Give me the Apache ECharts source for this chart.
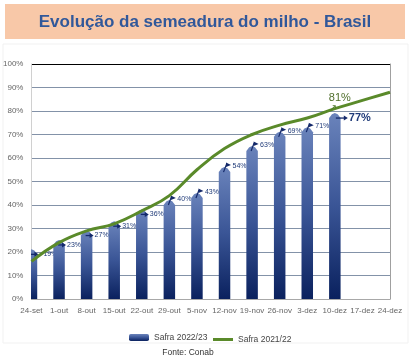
<!DOCTYPE html>
<html>
<head>
<meta charset="utf-8">
<script src="https://cdn.jsdelivr.net/npm/echarts@6/dist/echarts.min.js"></script>
<style>
html,body{margin:0;padding:0;background:#fff;}
#chart{width:412px;height:361px;}
</style>
</head>
<body>
<div id="chart"></div>
<script>
// ---- data ----
const categories = ['24-set','1-out','8-out','15-out','22-out','29-out','5-nov','12-nov','19-nov','26-nov','3-dez','10-dez','17-dez','24-dez'];
const safra2223 = [19, 23, 27, 31, 36, 40, 43, 54, 63, 69, 71, 77, null, null];
const safra2122 = [16, 24, 29, 32, 37.5, 44, 55, 64, 70, 74, 77, 81, 84.5, 88];
const yTicks = [0, 10, 20, 30, 40, 50, 60, 70, 80, 90, 100];
const titleText = 'Evolução da semeadura do milho - Brasil';
const sourceText = 'Fonte: Conab';
const seriesNames = ['Safra 2022/23', 'Safra 2021/22'];

const FONT = 'Liberation Sans, Arial, sans-serif';
const chart = echarts.init(document.getElementById('chart'), null, {renderer: 'canvas'});

const barGrad = new echarts.graphic.LinearGradient(0, 0, 0, 1, [
  {offset: 0, color: '#6a83bb'},
  {offset: 0.5, color: '#3a5596'},
  {offset: 1, color: '#0a215e'}
]);

const barData = [];
safra2223.forEach((v, i) => { if (v != null) barData.push([i, v]); });
const lastBarIdx = barData.length - 1;
const lastBarCat = barData[lastBarIdx][0];

function renderBar(params, api) {
  const idx = api.value(0);
  const v = api.value(1);
  const base = api.coord([idx, 0]);
  const top = api.coord([idx, v]);
  const cx = top[0];
  const w = 11.5, cap = 5;
  const ty = top[1];
  const children = [{
    type: 'polygon',
    shape: {points: [
      [cx - w / 2, base[1]], [cx - w / 2, ty], [cx - w / 4, ty - cap * 0.75],
      [cx, ty - cap], [cx + w / 4, ty - cap * 0.75], [cx + w / 2, ty], [cx + w / 2, base[1]]
    ]},
    style: {fill: barGrad}
  }];
  const navy = '#14296a';
  const k = params.dataIndex;
  if (k === lastBarIdx) {
    children.push({type: 'line', shape: {x1: cx + 1, y1: ty, x2: cx + 10, y2: ty}, style: {stroke: navy, lineWidth: 1.3}});
    children.push({type: 'polygon', shape: {points: [[cx + 9, ty - 2.5], [cx + 13, ty], [cx + 9, ty + 2.5]]}, style: {fill: navy}});
    children.push({type: 'text', style: {text: v + '%', x: cx + 14, y: ty, fill: '#1f3a78', fontSize: 11, fontWeight: 'bold', fontFamily: FONT, verticalAlign: 'middle'}});
  } else if (k < 5) {
    children.push({type: 'line', shape: {x1: cx - (k === 0 ? 2 : 1), y1: ty, x2: cx + 4, y2: ty}, style: {stroke: navy, lineWidth: 1.3}});
    children.push({type: 'polygon', shape: {points: [[cx + 3, ty - 2.5], [cx + 7, ty], [cx + 3, ty + 2.5]]}, style: {fill: navy}});
    children.push({type: 'text', style: {text: v + '%', x: cx + (k === 0 ? 12 : 8), y: ty, fill: '#1f3a78', fontSize: 7, fontFamily: FONT, verticalAlign: 'middle'}});
  } else {
    const fy = ty - 6;
    children.push({type: 'line', shape: {x1: cx - 1, y1: fy + 6, x2: cx + 2, y2: fy - 2}, style: {stroke: navy, lineWidth: 1.2}});
    children.push({type: 'polygon', shape: {points: [[cx + 1.5, fy - 3.5], [cx + 6.5, fy - 1], [cx + 1.5, fy + 1]]}, style: {fill: navy}});
    children.push({type: 'text', style: {text: v + '%', x: cx + 8, y: fy, fill: '#1f3a78', fontSize: 7, fontFamily: FONT, verticalAlign: 'middle'}});
  }
  return {type: 'group', children: children};
}

const splitColors = yTicks.map(t => t === 100 ? '#000000' : '#8392a8');

chart.setOption({
  animation: false,
  textStyle: {fontFamily: FONT},
  graphic: [
    {type: 'rect', shape: {x: 5, y: 4, width: 400, height: 35}, style: {fill: '#f8c8a8'}, z: 0},
    {type: 'text', x: 205, y: 22, style: {text: titleText, fill: '#31589a', fontSize: 17, fontWeight: 'bold', fontFamily: FONT, align: 'center', verticalAlign: 'middle'}},
    {type: 'rect', shape: {x: 3, y: 44, width: 405, height: 299}, style: {fill: 'none', stroke: '#f1f1f1', lineWidth: 1}, z: -1},
    {type: 'text', x: 188, y: 353, style: {text: sourceText, fill: '#333', fontSize: 8.5, fontFamily: FONT, align: 'center', verticalAlign: 'middle'}}
  ],
  grid: {left: 31, right: 22, top: 64, bottom: 62},
  legend: [{
    left: 124, top: 328, itemWidth: 20, itemHeight: 7,
    textStyle: {fontSize: 8.5, color: '#444', fontFamily: FONT},
    data: [{name: seriesNames[0], icon: 'roundRect'}]
  }, {
    left: 208, top: 330, itemWidth: 20, itemHeight: 3,
    textStyle: {fontSize: 8.5, color: '#444', fontFamily: FONT},
    data: [{name: seriesNames[1], icon: 'rect'}]
  }],
  xAxis: {
    type: 'category', data: categories, boundaryGap: false,
    axisLine: {lineStyle: {color: '#a8a8a8'}},
    axisTick: {show: false},
    axisLabel: {fontSize: 8, color: '#666', margin: 8, interval: 0, fontFamily: FONT},
    splitLine: {show: false}
  },
  yAxis: [{
    type: 'value', min: 0, max: 100, interval: 10,
    axisLine: {show: true, lineStyle: {color: '#d0d0d0'}},
    axisTick: {show: false},
    axisLabel: {formatter: '{value}%', fontSize: 8, color: '#666', margin: 8, fontFamily: FONT},
    splitLine: {show: true, lineStyle: {color: splitColors, width: 1}}
  }, {
    type: 'value', min: 0, max: 100, interval: 10, position: 'right',
    axisLine: {show: true, lineStyle: {color: '#a0a0a0'}},
    axisTick: {show: false}, axisLabel: {show: false}, splitLine: {show: false}
  }],
  series: [{
    name: seriesNames[0], type: 'custom', renderItem: renderBar, data: barData,
    itemStyle: {color: barGrad}, clip: true, z: 2,
    encode: {x: 0, y: 1}
  }, {
    name: seriesNames[1], type: 'line', data: safra2122, smooth: 0.45,
    symbol: 'none', showSymbol: false,
    lineStyle: {color: '#5a8a2a', width: 3}, itemStyle: {color: '#5a8a2a'}, z: 3,
    markPoint: {
      symbol: 'circle', symbolSize: 0, silent: true,
      data: [{
        coord: [lastBarCat, safra2122[lastBarCat]],
        label: {
          show: true, position: 'top', distance: 0, offset: [5, 4],
          formatter: '{t|' + safra2122[lastBarCat] + '%}\n{a|↗}',
          rich: {
            t: {fontSize: 11, color: '#4f6e2b', fontFamily: FONT, lineHeight: 11, align: 'center'},
            a: {fontSize: 10, color: '#4f7a2b', fontFamily: 'DejaVu Sans', lineHeight: 9, align: 'left'}
          }
        }
      }]
    }
  }]
});
</script>
</body>
</html>
